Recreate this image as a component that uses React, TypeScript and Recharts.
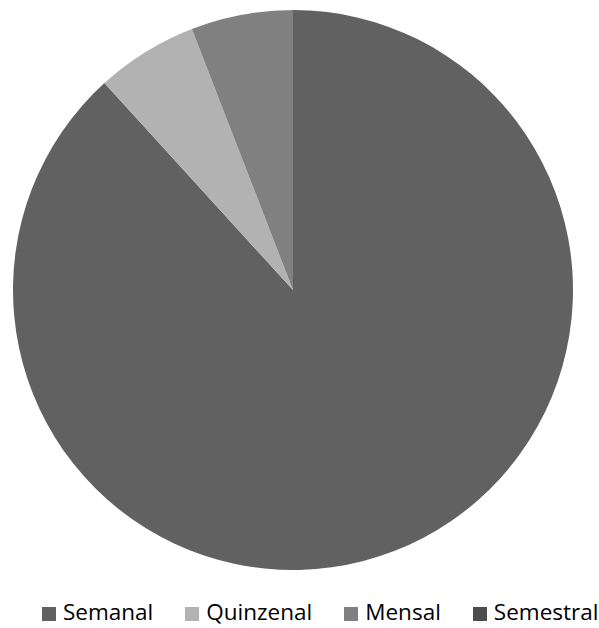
import { PieChart, Pie, Cell, Legend } from 'recharts'

const categories = ['Semanal', 'Quinzenal', 'Mensal', 'Semestral']
const values = [15, 1, 1, 0]
const colors = ['#616161', '#b2b2b2', '#808080', '#4d4d4d']

const chartData = categories.map((name, i) => ({ name, value: values[i] }))

function LegendContent() {
  return (
    <div style={{ display: 'flex', paddingLeft: 42, fontFamily: '"Open Sans", sans-serif', fontSize: 22.5, color: '#000', lineHeight: '28px', whiteSpace: 'nowrap' }}>
      {categories.map((name, i) => (
        <div key={name} style={{ display: 'flex', alignItems: 'center', marginRight: i === 3 ? 0 : 32 }}>
          <span style={{ display: 'inline-block', width: 14, height: 14, background: colors[i], marginRight: 7, marginTop: 3 }} />
          <span>{name}</span>
        </div>
      ))}
    </div>
  )
}

export default function App() {
  return (
    <div style={{ position: 'absolute', left: 0, top: 0, width: 599, height: 628, background: '#fff', overflow: 'hidden' }}>
      <PieChart width={599} height={628} margin={{ top: 0, right: 0, bottom: 0, left: 0 }}>
        <Pie
          data={chartData}
          dataKey="value"
          nameKey="name"
          cx={293}
          cy={290}
          outerRadius={280}
          startAngle={90}
          endAngle={-270}
          stroke="none"
          isAnimationActive={false}
        >
          {chartData.map((d, i) => (
            <Cell key={d.name} fill={colors[i]} />
          ))}
        </Pie>
        <Legend content={LegendContent} wrapperStyle={{ left: 0, top: 598, width: 599 }} />
      </PieChart>
    </div>
  )
}
